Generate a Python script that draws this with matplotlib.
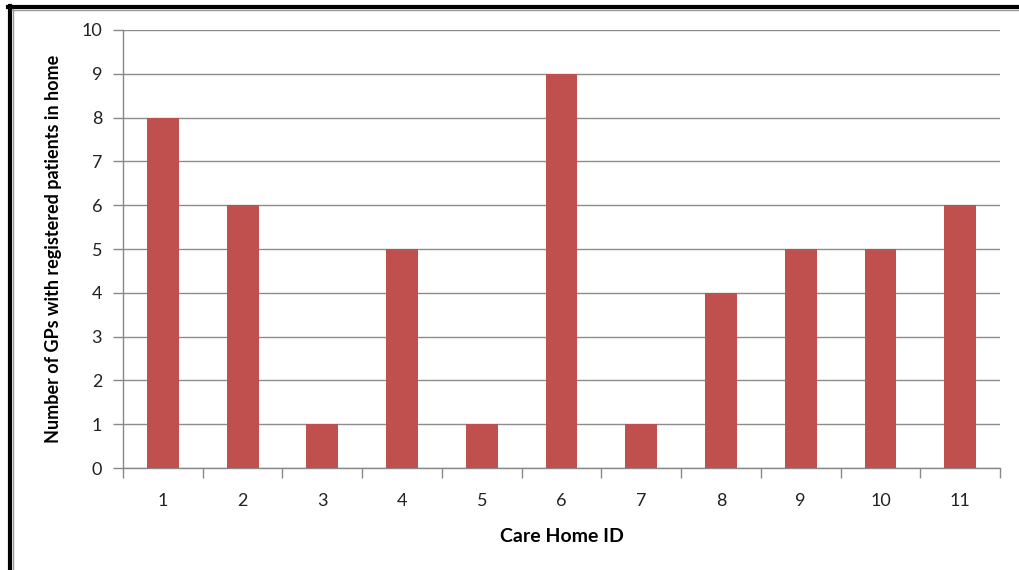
import matplotlib.pyplot as plt
from matplotlib.lines import Line2D

home_ids = ['1', '2', '3', '4', '5', '6', '7', '8', '9', '10', '11']
gp_counts = [8, 6, 1, 5, 1, 9, 1, 4, 5, 5, 6]

plt.rcParams['font.family'] = ['Lato', 'DejaVu Sans']

fig = plt.figure(figsize=(10.19, 5.70), dpi=100)
ax = fig.add_axes([0.1207, 0.1789, 0.8607, 0.7685])

pos = list(range(1, len(home_ids) + 1))
ax.bar(pos, gp_counts, width=0.4, color='#C0504D', zorder=3)

ax.set_xlim(0.5, len(home_ids) + 0.5)
ax.set_ylim(0, 10)
ax.set_yticks(range(0, 11))
ax.set_xticks(pos)
ax.set_xticklabels(home_ids)
ax.set_xticks([p - 0.5 for p in pos] + [len(pos) + 0.5], minor=True)

ax.tick_params(axis='x', which='major', length=0, pad=18, labelsize=13, colors='#222222')
ax.tick_params(axis='x', which='minor', length=7, width=1, color='#888888')
ax.tick_params(axis='y', length=7, width=1, color='#888888', pad=8, labelsize=13, labelcolor='#222222')

ax.yaxis.grid(True, color='#8c8c8c', linewidth=1)
ax.set_axisbelow(True)
for side in ['top', 'right']:
    ax.spines[side].set_visible(False)
for side in ['left', 'bottom']:
    ax.spines[side].set_color('#888888')
    ax.spines[side].set_linewidth(1)

ax.set_ylabel('Number of GPs with registered patients in home', fontsize=13,
              fontweight='bold', labelpad=14)
ax.set_xlabel('Care Home ID', fontsize=14, fontweight='bold', labelpad=14)

# frame around the figure
W, H = 1019, 570
fig.add_artist(Line2D([10 / W, 10 / W], [0, 1 - 6 / H], color='black', linewidth=3,
                      transform=fig.transFigure))
fig.add_artist(Line2D([8 / W, 1], [1 - 6.5 / H, 1 - 6.5 / H], color='black', linewidth=3,
                      transform=fig.transFigure))
fig.add_artist(Line2D([13 / W, 13 / W], [0, 1 - 9 / H], color='#999999', linewidth=1,
                      transform=fig.transFigure))
fig.add_artist(Line2D([12 / W, 1], [1 - 9.5 / H, 1 - 9.5 / H], color='#999999', linewidth=1,
                      transform=fig.transFigure))

fig.savefig('out.png', dpi=100)
